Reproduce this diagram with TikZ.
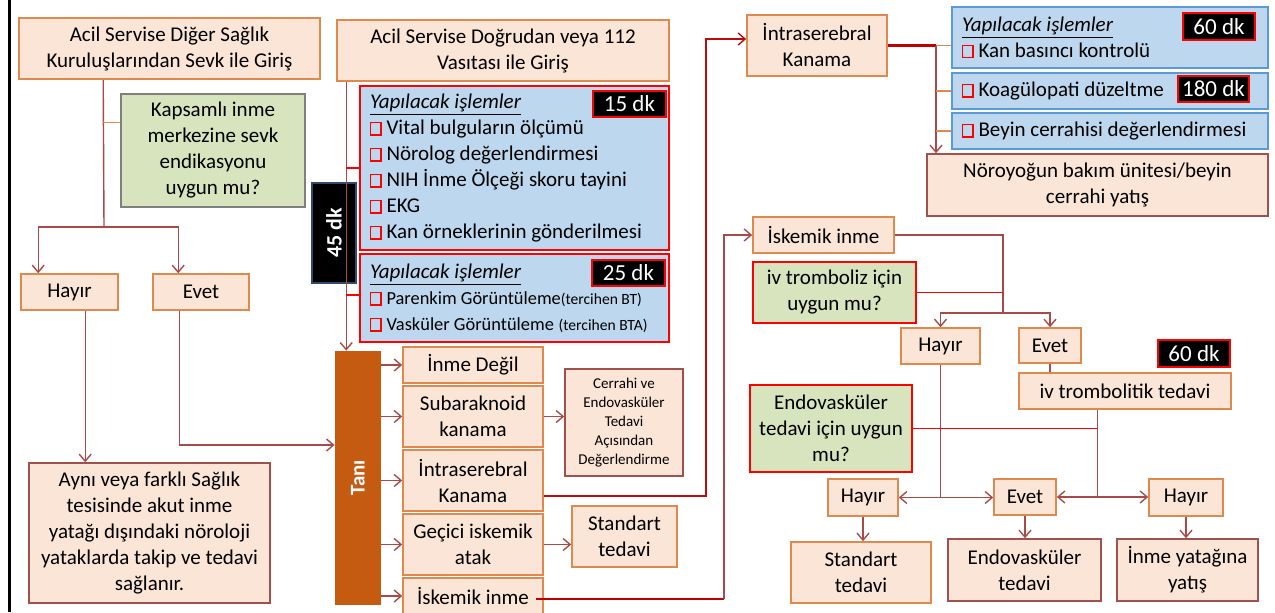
\documentclass[tikz,border=0pt]{standalone}
\usepackage{fontspec}
\setmainfont{Carlito}
\usepackage{graphicx}
\usepackage{tikz}
\usetikzlibrary{positioning,arrows.meta}
\usepackage{xcolor}
\definecolor{peach}{HTML}{FBE5D6}
\definecolor{orbrd}{HTML}{DE8A4E}
\definecolor{drbrd}{HTML}{A0504D}
\definecolor{lblue}{HTML}{BDD7EE}
\definecolor{bluebrd}{HTML}{5B9BD5}
\definecolor{lgreen}{HTML}{D7E4BD}
\definecolor{tanic}{HTML}{C55A11}
\definecolor{lnc}{HTML}{A84B48}
\definecolor{koyukirmizi}{HTML}{C00000}
\definecolor{lacivert}{HTML}{2F4A6A}
\newcommand{\kutu}{{\color{red}\setlength{\fboxsep}{0pt}\setlength{\fboxrule}{0.7pt}\fbox{\rule{0pt}{5.5pt}\hspace{4.5pt}}}\ }
\newcommand{\baslik}{\underline{\textit{Yapılacak işlemler}}}
\newcommand{\orta}{\fontsize{9.2}{13}\selectfont}
\newcommand{\kucuk}{\fontsize{7.8}{13}\selectfont}

\begin{document}
\begin{tikzpicture}[x=0.5pt,y=-0.5pt,
  font=\fontsize{10.5}{13}\selectfont,
  box/.style={draw=orbrd,fill=peach,line width=0.8pt,align=center,inner sep=1pt},
  rbox/.style={box,draw=drbrd},
  qbox/.style={draw=red,fill=lgreen,line width=0.8pt,align=center,inner sep=1pt},
  tbox/.style={draw=red,fill=lblue,line width=0.8pt,align=flush left,inner xsep=5pt,inner ysep=0pt},
  dk/.style={draw=red,fill=black,text=white,line width=0.8pt,inner sep=0pt,font=\fontsize{11.5}{13}\selectfont},
  ln/.style={draw=lnc,line width=0.7pt},
  arr/.style={ln,-{Straight Barb[length=3.5pt,width=6pt]}},
  rtick/.style={draw=red,line width=0.9pt},
  otick/.style={draw=orbrd,line width=0.8pt},
  kalin/.style={draw=koyukirmizi,line width=1.1pt}]
\useasboundingbox (0,0) rectangle (1275,612);
\draw[line width=1.5pt] (9,0) -- (9,612);

% sol kol
\node[box,minimum width=150.5pt,minimum height=30.5pt] (src1) at (169.5,48.5) {Acil Servise Diğer Sağlık\\Kuruluşlarından Sevk ile Giriş};
\node[qbox,draw=gray,minimum width=92pt,minimum height=56.5pt] (q1) at (213,150.5) {Kapsamlı inme\\merkezine sevk\\endikasyonu\\uygun mu?};
\node[box,minimum width=48.5pt,minimum height=18pt] (hay1) at (69.5,292) {Hayır};
\node[box,minimum width=48pt,minimum height=18pt] (evt1) at (201,292) {Evet};
\node[rbox,minimum width=120.5pt,minimum height=70pt] (out1) at (149.5,533) {Aynı veya farklı Sağlık\\tesisinde akut inme\\yatağı dışındaki nöroloji\\yataklarda takip ve tedavi\\sağlanır.};

% orta kol
\node[box,minimum width=166pt,minimum height=30.5pt] (src2) at (503,50.5) {Acil Servise Doğrudan veya 112\\Vasıtası ile Giriş};
\node[tbox,text width=144.5pt,minimum height=82pt] (is1) at (514.5,168) {\baslik\\\kutu Vital bulguların ölçümü\\\kutu Nörolog değerlendirmesi\\\kutu NIH İnme Ölçeği skoru tayini\\\kutu EKG\\\kutu Kan örneklerinin gönderilmesi};
\node[tbox,text width=144.5pt,minimum height=44pt] (is2) at (514.5,298) {\baslik\\\kutu{\orta Parenkim Görüntüleme}{\kucuk(tercihen BT)}\\\kutu{\orta Vasküler Görüntüleme} {\kucuk(tercihen BTA)}};
\node[dk,minimum width=36.5pt,minimum height=13pt] (dk15) at (629.5,104) {15 dk};
\node[dk,minimum width=36.5pt,minimum height=13pt] (dk25) at (628.5,273) {25 dk};
\node[dk,draw=lacivert,minimum width=22pt,minimum height=50pt,font=\fontsize{11}{13}\selectfont\bfseries] (dk45) at (334,233) {\rotatebox{90}{45 dk}};
\node[fill=tanic,minimum width=23pt,minimum height=127pt,inner sep=0pt,text=white,font=\fontsize{10.5}{13}\selectfont\bfseries] (tani) at (358,478) {\rotatebox{90}{Tanı}};
\node[box,minimum width=70pt,minimum height=18pt] (d1) at (473,365) {İnme Değil};
\node[box,minimum width=70pt,minimum height=30.5pt] (d2) at (473,416.5) {Subaraknoid\\kanama};
\node[box,minimum width=70pt,minimum height=30.5pt] (d3) at (473,480.5) {İntraserebral\\Kanama};
\node[box,minimum width=70pt,minimum height=30.5pt] (d4) at (473,544.5) {Geçici iskemik\\atak};
\node[box,minimum width=70pt,minimum height=18pt] (d5) at (473,596) {İskemik inme};
\node[rbox,minimum width=59pt,minimum height=53.5pt,font=\fontsize{7.5}{9.5}\selectfont] (cerr) at (624,422.5) {Cerrahi ve\\Endovasküler\\Tedavi\\Açısından\\Değerlendirme};
\node[box,minimum width=52.5pt,minimum height=30.5pt] (std1) at (624.5,536.5) {Standart\\tedavi};

% kanama kolu
\node[box,minimum width=70pt,minimum height=30.5pt] (ik) at (817,45.5) {İntraserebral\\Kanama};
\node[tbox,draw=bluebrd,text width=148pt,minimum height=30.5pt] (tA) at (1110,37.5) {\baslik\\\kutu Kan basıncı kontrolü};
\node[tbox,draw=bluebrd,text width=148pt,minimum height=18pt] (tB) at (1110,91) {\kutu Koagülopati düzeltme};
\node[tbox,draw=bluebrd,text width=148pt,minimum height=18pt] (tC) at (1110,131) {\kutu Beyin cerrahisi değerlendirmesi};
\node[dk,minimum width=36pt,minimum height=13.5pt] (dk60a) at (1219,26.5) {60 dk};
\node[dk,minimum width=35.5pt,minimum height=13pt] (dk180) at (1213.5,89) {180 dk};
\node[rbox,minimum width=170.5pt,minimum height=31pt] (noro) at (1097.5,185) {Nöroyoğun bakım ünitesi/beyin\\cerrahi yatış};

% iskemi kolu
\node[box,minimum width=70.5pt,minimum height=18pt] (isk) at (823.5,235) {İskemik inme};
\node[qbox,minimum width=81.5pt,minimum height=30.5pt] (q2) at (834.5,292.5) {iv tromboliz için\\uygun mu?};
\node[box,minimum width=39.5pt,minimum height=18pt] (hay2) at (940.5,346) {Hayır};
\node[box,minimum width=31pt,minimum height=17.5pt] (evt2) at (1050,345.5) {Evet};
\node[dk,minimum width=36pt,minimum height=13.5pt] (dk60b) at (1194,353.5) {60 dk};
\node[box,minimum width=106pt,minimum height=18pt] (ivt) at (1125,391) {iv trombolitik tedavi};
\node[qbox,minimum width=81pt,minimum height=43.5pt] (q3) at (831,428.5) {Endovasküler\\tedavi için uygun\\mu?};
\node[box,minimum width=35pt,minimum height=18.5pt] (hay3) at (863,497.5) {Hayır};
\node[box,minimum width=31pt,minimum height=18pt] (evt3) at (1025,497) {Evet};
\node[box,minimum width=37pt,minimum height=18.5pt] (hay4) at (1186,497.5) {Hayır};
\node[box,minimum width=70pt,minimum height=30.5pt] (std2) at (861,572.5) {Standart\\tedavi};
\node[rbox,minimum width=76.5pt,minimum height=31pt] (endo) at (1024.5,570) {Endovasküler\\tedavi};
\node[rbox,minimum width=70.5pt,minimum height=31pt] (yat) at (1187.5,570) {İnme yatağına\\yatış};

\coordinate (j1) at (104,227);
\coordinate (c1) at (706,0);
\coordinate (c2) at (724,0);
\coordinate (c3) at (936,0);
\coordinate (c4) at (1003,313);

% baglantilar
\draw[ln] ([xshift=42.5pt]src1.south west) -- (j1);
\draw[otick] ([yshift=14pt]q1.west) -- ++(-8.5pt,0);
\draw[arr] (j1) -| ([xshift=9pt]hay1.north west);
\draw[arr] (j1) -| ([xshift=13pt]evt1.north west);
\draw[arr] ([xshift=32.5pt]hay1.south west) coordinate (h1) -- (h1 |- out1.north);
\draw[arr] ([xshift=13.5pt]evt1.south west) |- ([yshift=16.5pt]tani.west);

\draw[arr] ([xshift=5pt]src2.south west) coordinate (s2) -- (s2 |- tani.north);
\draw[rtick] (is1.west) -- (is1.west -| s2);
\draw[rtick] ([yshift=1.5pt]is2.west) -- ([yshift=1.5pt]is2.west -| s2);
\foreach \d in {d1,d2,d3,d4,d5}
  \draw[arr] (tani.east |- \d.west) -- (\d.west);
\draw[arr] (d2.east) -- (d2.east -| cerr.west);
\draw[arr] (d4.east) -- (d4.east -| std1.west);
\draw[arr,draw=koyukirmizi!85!lnc] ([yshift=-7.75pt]d3.east) coordinate (p3) -- (p3 -| c1) |- ([yshift=3.25pt]ik.west);
\draw[kalin] ([xshift=-4pt,yshift=-1.5pt]d5.east) coordinate (p5) -- (p5 -| c2);
\draw[arr] (p5 -| c2) |- (isk.west);

\draw[kalin] (ik.east) -- (ik.east -| c3);
\draw[arr] (ik.east -| c3) coordinate (k1) -- (k1 |- noro.north);
\draw[otick] (k1) -- (k1 -| tA.west);
\draw[otick] (tB.west -| c3) -- (tB.west);
\draw[otick] (tC.west -| c3) -- (tC.west);

\draw[ln] (isk.east) -| (c4);
\draw[rtick] (q2.east) -- (q2.east -| c4);
\draw[arr] (c4) -| (hay2.north);
\draw[arr] (c4) -| (evt2.north);
\draw[ln] (evt2.south) -- (evt2.south |- ivt.north);
\draw[ln] (hay2.south) -- (hay2.south |- hay3.east) coordinate (c5);
\draw[arr] (c5) -- (hay3.east);
\draw[arr] (c5) -- (c5 -| evt3.west);
\draw[ln] ([xshift=39.5pt]ivt.south west) coordinate (p6) -- (p6 |- evt3.east) coordinate (c6);
\draw[rtick] (q3.east) -- (q3.east -| c6);
\draw[arr] (c6) -- (evt3.east);
\draw[arr] (c6) -- (c6 -| hay4.west);
\draw[arr] (hay3.south) -- (hay3.south |- std2.north);
\draw[arr] (evt3.south) -- (evt3.south |- endo.north);
\draw[arr] (hay4.south) -- (hay4.south |- yat.north);
\end{tikzpicture}
\end{document}
